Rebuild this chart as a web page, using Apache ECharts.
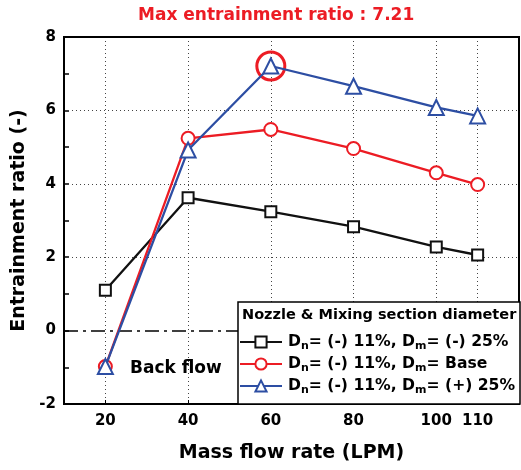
<!DOCTYPE html>
<html><head><meta charset="utf-8">
<script src="https://cdn.jsdelivr.net/npm/echarts@6/dist/echarts.min.js"></script>
<style>html,body{margin:0;padding:0;background:#fff}#c{width:521px;height:470px}</style>
</head><body><div id="c"></div>
<script>
const xValues = [20, 40, 60, 80, 100, 110];
const xTickLabels = [20, 40, 60, 80, 100, 110];
const yGridValues = [2, 4, 6];
const blackVals = [1.10, 3.62, 3.24, 2.83, 2.28, 2.06];
const redVals = [-0.98, 5.24, 5.48, 4.96, 4.30, 3.98];
const blueVals = [-0.98, 4.92, 7.21, 6.66, 6.08, 5.85];
const seriesNames = ['Dn= (-) 11%, Dm= (-) 25%', 'Dn= (-) 11%, Dm= Base', 'Dn= (-) 11%, Dm= (+) 25%'];
const legendRich = [
  '{b|D}{s|n}{b|= (-) 11%, D}{s|m}{b|= (-) 25%}',
  '{b|D}{s|n}{b|= (-) 11%, D}{s|m}{b|= Base}',
  '{b|D}{s|n}{b|= (-) 11%, D}{s|m}{b|= (+) 25%}'
];
const maxPoint = [60, 7.21];
const titleText = 'Max entrainment ratio : 7.21';
const legendTitle = 'Nozzle & Mixing section diameter';
const annotation = 'Back flow';

const FONT = 'DejaVu Sans';
const colors = ['#111111', '#ec1c24', '#2d4ea3'];
const symbols = ['emptyRect', 'emptyCircle', 'emptyTriangle'];
const symSizes = [11, 13, 15];
const vals = [blackVals, redVals, blueVals];

const series = vals.map((v, i) => ({
  name: seriesNames[i],
  type: 'line',
  data: xValues.map((x, j) => [x, v[j]]),
  symbol: symbols[i],
  symbolSize: symSizes[i],
  color: colors[i],
  lineStyle: { width: 2.3, color: colors[i] },
  itemStyle: { color: colors[i], borderWidth: 2.3 },
  z: 3 + i
}));
series[0].markLine = {
  silent: true, symbol: 'none', label: { show: false }, z: 1,
  data: [
    { yAxis: 0, lineStyle: { color: '#000', width: 1.5, type: [14, 5, 3, 5] } }
  ].concat(yGridValues.map(v => ({ yAxis: v, lineStyle: { color: '#444', width: 1, type: [1, 3] } })))
};
series[2].markPoint = {
  symbol: 'circle', symbolSize: 28, label: { show: false },
  itemStyle: { color: 'rgba(0,0,0,0)', borderColor: '#ec1c24', borderWidth: 3 },
  data: [{ coord: maxPoint }]
};

const chart = echarts.init(document.getElementById('c'), null, { renderer: 'canvas' });
chart.setOption({
  animation: false,
  backgroundColor: '#fff',
  title: {
    text: titleText, left: 133, top: 2,
    textStyle: { color: '#ec1c24', fontFamily: FONT, fontWeight: 'bold', fontSize: 17 }
  },
  grid: { left: 64, right: 2, top: 37, bottom: 66, show: true, borderColor: '#000', borderWidth: 2, backgroundColor: 'transparent', z: 2 },
  xAxis: {
    type: 'value', min: 10, max: 120,
    name: 'Mass flow rate (LPM)', nameLocation: 'middle', nameGap: 40,
    nameTextStyle: { fontFamily: FONT, fontWeight: 'bold', fontSize: 19, color: '#000' },
    axisLine: { onZero: false, lineStyle: { color: '#000', width: 2 } },
    axisTick: { inside: true, length: 4, customValues: xTickLabels, lineStyle: { color: '#000' } },
    axisLabel: { customValues: xTickLabels, margin: 10, fontFamily: FONT, fontWeight: 'bold', fontSize: 15, color: '#000' },
    splitLine: { show: true, lineStyle: { color: '#444', width: 1, type: [1, 3] } }
  },
  yAxis: {
    type: 'value', min: -2, max: 8, interval: 2,
    name: 'Entrainment ratio (-)', nameLocation: 'middle', nameGap: 25,
    nameTextStyle: { fontFamily: FONT, fontWeight: 'bold', fontSize: 19, color: '#000' },
    axisLine: { show: true, onZero: false, lineStyle: { color: '#000', width: 2 } },
    axisTick: { show: true, inside: true, length: 5, lineStyle: { color: '#000', width: 1.5 } },
    minorTick: { show: true, splitNumber: 2, length: 5, lineStyle: { color: '#000', width: 1.5 } },
    axisLabel: { margin: 8, fontFamily: FONT, fontWeight: 'bold', fontSize: 15, color: '#000' },
    splitLine: { show: false }
  },
  legend: {
    orient: 'vertical', left: 239, top: 334, z: 20,
    itemWidth: 42, itemHeight: 14, itemGap: 4, padding: 0,
    data: seriesNames,
    formatter: (name) => legendRich[seriesNames.indexOf(name)],
    textStyle: {
      color: '#000', padding: [0, 0, 0, 1],
      rich: {
        b: { fontFamily: FONT, fontWeight: 'bold', fontSize: 15.6, color: '#000', lineHeight: 20 },
        s: { fontFamily: FONT, fontWeight: 'bold', fontSize: 11, color: '#000', lineHeight: 9, verticalAlign: 'bottom' }
      }
    }
  },
  graphic: [
    { type: 'rect', z: 15, shape: { x: 238, y: 302, width: 282, height: 102 }, style: { fill: '#fff', stroke: '#000', lineWidth: 1.5 } },
    { type: 'text', z: 16, left: 242, top: 308, style: { text: legendTitle, font: 'bold 14.5px "DejaVu Sans"', fill: '#000' } },
    { type: 'text', z: 16, left: 130, top: 360, style: { text: annotation, font: 'bold 17px "DejaVu Sans"', fill: '#000' } }
  ],
  series: series
});
</script></body></html>
